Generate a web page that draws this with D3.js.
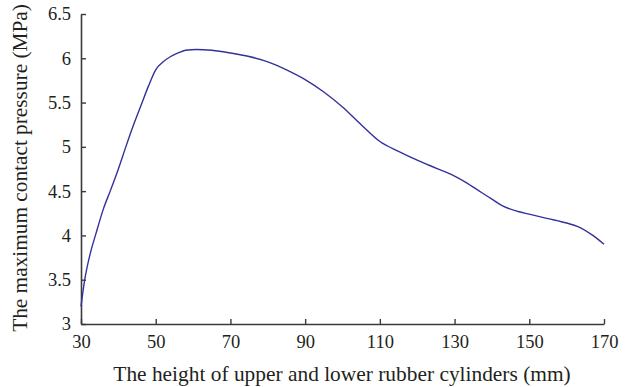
<!DOCTYPE html>
<html>
<head>
<meta charset="utf-8">
<script src="https://cdn.jsdelivr.net/npm/d3@7"></script>
<style>
  body { margin: 0; background: #fff; }
  text { font-family: "Liberation Serif", "Times New Roman", serif; fill: #231f20; }
</style>
</head>
<body>
<svg id="chart" width="632" height="387"></svg>
<script>
// height of rubber cylinders (mm)
var heights = [30, 31, 32.5, 34, 36, 38, 40, 42, 44, 46, 48, 50, 52, 54, 56, 58, 61, 65, 70, 75, 80, 85, 90,
               95, 100, 105, 110, 115, 120, 125, 130, 133, 137, 140, 143, 147, 150, 155, 160, 163, 167, 170];
// maximum contact pressure (MPa)
var pressure = [3.2, 3.5, 3.8, 4.02, 4.3, 4.52, 4.75, 5.0, 5.24, 5.46, 5.68, 5.87, 5.96, 6.02, 6.06, 6.09, 6.10, 6.09, 6.06,
                6.02, 5.96, 5.87, 5.76, 5.62, 5.45, 5.25, 5.06, 4.95, 4.85, 4.76, 4.67, 4.60, 4.49,
                4.41, 4.33, 4.27, 4.24, 4.19, 4.14, 4.10, 4.00, 3.90];
var xTicks = [30, 50, 70, 90, 110, 130, 150, 170];
var yTicks = [3, 3.5, 4, 4.5, 5, 5.5, 6, 6.5];

var svg = d3.select("#chart");
var mLeft = 81, mRight = 604, mTop = 14, mBottom = 324;

var x = d3.scaleLinear().domain([30, 170]).range([mLeft, mRight]);
var y = d3.scaleLinear().domain([3, 6.5]).range([mBottom, mTop]);

var axisColor = "#3a3a3a";

// x axis, ticks pointing inward
var gx = svg.append("g")
    .attr("transform", "translate(0," + mBottom + ")")
    .call(d3.axisBottom(x).tickValues(xTicks).tickSizeInner(-5).tickSizeOuter(0).tickPadding(10));
gx.select(".domain").attr("stroke", axisColor).attr("stroke-width", 1.6);
gx.selectAll(".tick line").attr("stroke", axisColor).attr("stroke-width", 1.4);
gx.selectAll(".tick text")
    .attr("font-size", 18.5).attr("font-family", null)
    .attr("dy", "0.75em");

// y axis
var gy = svg.append("g")
    .attr("transform", "translate(" + mLeft + ",0)")
    .call(d3.axisLeft(y).tickValues(yTicks).tickSizeInner(-5).tickSizeOuter(0).tickPadding(10)
      .tickFormat(function(d) { return d3.format("")(d); }));
gy.select(".domain").attr("stroke", axisColor).attr("stroke-width", 1.6);
gy.selectAll(".tick line").attr("stroke", axisColor).attr("stroke-width", 1.4);
gy.selectAll(".tick text")
    .attr("font-size", 18.5).attr("font-family", null);

// curve
var line = d3.line()
    .x(function(d, i) { return x(heights[i]); })
    .y(function(d) { return y(d); })
    .curve(d3.curveMonotoneX);

svg.append("path")
    .datum(pressure)
    .attr("d", line)
    .attr("fill", "none")
    .attr("stroke", "#34319a")
    .attr("stroke-width", 1.4);

// axis titles
svg.append("text")
    .attr("x", 342).attr("y", 381)
    .attr("text-anchor", "middle")
    .attr("font-size", 21.4)
    .text("The height of upper and lower rubber cylinders (mm)");

svg.append("text")
    .attr("transform", "translate(27,168) rotate(-90)")
    .attr("text-anchor", "middle")
    .attr("font-size", 21.3)
    .text("The maximum contact pressure (MPa)");
</script>
</body>
</html>
